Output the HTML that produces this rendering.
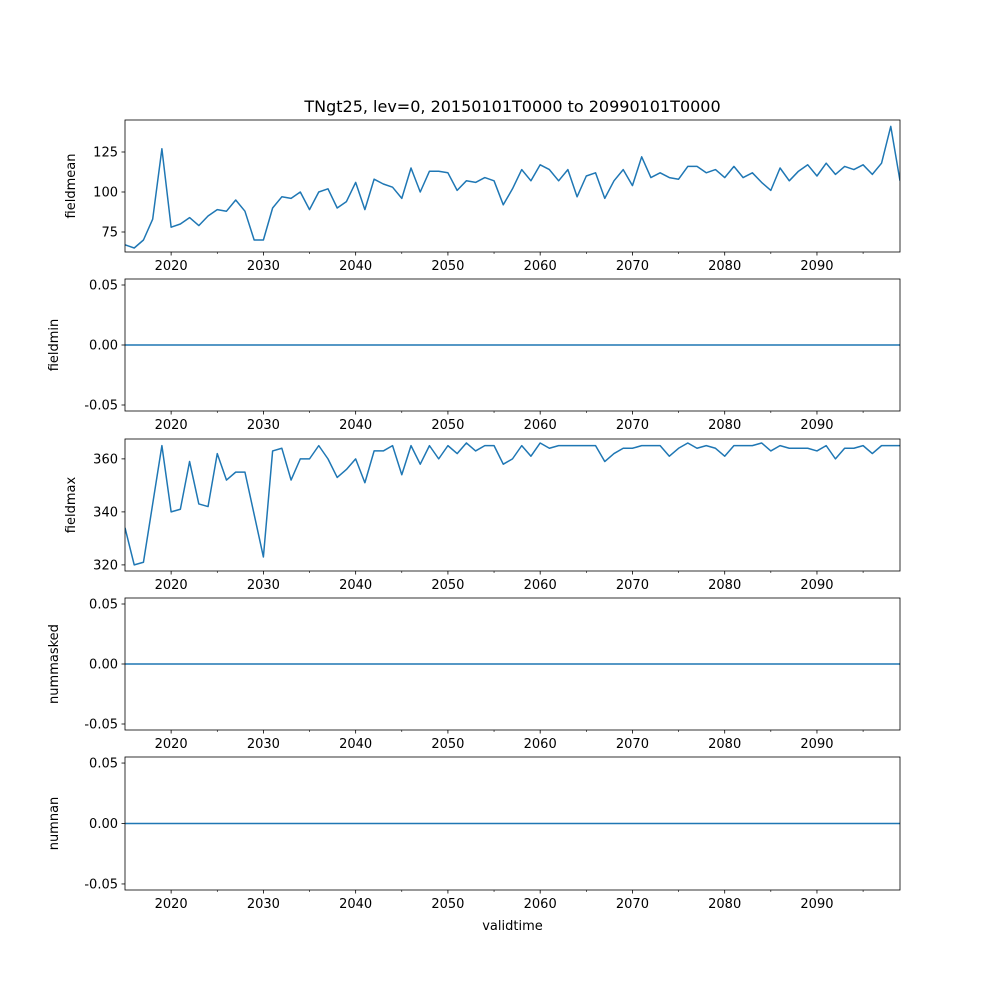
<!DOCTYPE html>
<html><head><meta charset="utf-8"><style>
body{margin:0;background:#fff}
svg text{font-family:"DejaVu Sans","Liberation Sans",sans-serif;fill:#000}
</style></head><body>
<svg id="chart" width="1000" height="1000" xmlns="http://www.w3.org/2000/svg"></svg>
<script>
const years = [];
for (let y = 2015; y <= 2099; y++) years.push(y);
const fieldmean = [67,65,70,83,127,78,80,84,79,85,89,88,95,88,70,70,90,97,96,100,89,100,102,90,94,106,89,108,105,103,96,115,100,113,113,112,101,107,106,109,107,92,102,114,107,117,114,107,114,97,110,112,96,107,114,104,122,109,112,109,108,116,116,112,114,109,116,109,112,106,101,115,107,113,117,110,118,111,116,114,117,111,118,141,107];
const fieldmax = [334,320,321,343,365,340,341,359,343,342,362,352,355,355,339,323,363,364,352,360,360,365,360,353,356,360,351,363,363,365,354,365,358,365,360,365,362,366,363,365,365,358,360,365,361,366,364,365,365,365,365,365,359,362,364,364,365,365,365,361,364,366,364,365,364,361,365,365,365,366,363,365,364,364,364,363,365,360,364,364,365,362,365,365,365];
const fieldmin = years.map(() => 0);
const nummasked = years.map(() => 0);
const numnan = years.map(() => 0);
const xTicks = [2020,2030,2040,2050,2060,2070,2080,2090];
const xMinor = [2025,2035,2045,2055,2065,2075,2085,2095];
const meanTicks = [75,100,125];
const maxTicks = [320,340,360];
const zeroTicks = [-0.05,0,0.05];

const NS = "http://www.w3.org/2000/svg";
const svg = document.getElementById('chart');
function el(tag, attrs, parent) {
  const e = document.createElementNS(NS, tag);
  for (const k in attrs) e.setAttribute(k, attrs[k]);
  (parent || svg).appendChild(e);
  return e;
}
const X0 = 125, X1 = 900, XMIN = 2015, XMAX = 2099;
const xs = v => X0 + (v - XMIN) / (XMAX - XMIN) * (X1 - X0);

const panels = [
  {name:'fieldmean', data:fieldmean, top:120, bot:252, ymin:62.5, ymax:145, ticks:meanTicks, fmt:v=>String(v), lx:75},
  {name:'fieldmin', data:fieldmin, top:279, bot:411, ymin:-0.055, ymax:0.055, ticks:zeroTicks, fmt:v=>v.toFixed(2), lx:58},
  {name:'fieldmax', data:fieldmax, top:439, bot:571, ymin:317.7, ymax:367.5, ticks:maxTicks, fmt:v=>String(v), lx:75},
  {name:'nummasked', data:nummasked, top:598, bot:730, ymin:-0.055, ymax:0.055, ticks:zeroTicks, fmt:v=>v.toFixed(2), lx:58},
  {name:'numnan', data:numnan, top:757, bot:890, ymin:-0.055, ymax:0.055, ticks:zeroTicks, fmt:v=>v.toFixed(2), lx:58}
];

panels.forEach(p => {
  const g = el('g', {});
  
  
  const ys = v => p.bot - (v - p.ymin) / (p.ymax - p.ymin) * (p.bot - p.top);
  // line
  const pts = p.data.map((v,i) => xs(years[i]).toFixed(2) + ',' + ys(v).toFixed(2)).join(' ');
  const clipId = 'clip-' + p.name;
  const cp = el('clipPath', {id: clipId}, g);
  el('rect', {x:X0, y:p.top, width:X1-X0, height:p.bot-p.top}, cp);
  const line = el('polyline', {points:pts, fill:'none', stroke:'#1f77b4', 'stroke-width':1.5, 'stroke-linejoin':'round', 'clip-path':'url(#'+clipId+')'}, g);
  
  
  // frame
  const fr = el('rect', {x:X0, y:p.top, width:X1-X0, height:p.bot-p.top, fill:'none', stroke:'#000', 'stroke-width':0.8}, g);
  
  
  // y ticks
  p.ticks.forEach(t => {
    const y = ys(t);
    el('line', {x1:X0-3.5, x2:X0, y1:y, y2:y, stroke:'#000', 'stroke-width':0.8}, g);
    const tx = el('text', {x:X0-7, y:y+4.5, 'text-anchor':'end', 'font-size':13}, g);
    tx.textContent = p.fmt(t);
    
    
  });
  // x ticks
  xTicks.forEach(t => {
    const x = xs(t);
    el('line', {x1:x, x2:x, y1:p.bot, y2:p.bot+3.5, stroke:'#000', 'stroke-width':0.8}, g);
    const tx = el('text', {x:x, y:p.bot+18, 'text-anchor':'middle', 'font-size':13}, g);
    tx.textContent = t;
    
    
  });
  xMinor.forEach(t => {
    const x = xs(t);
    el('line', {x1:x, x2:x, y1:p.bot, y2:p.bot+2, stroke:'#000', 'stroke-width':0.6}, g);
  });
  // y label
  const cy = (p.top + p.bot) / 2;
  const yl = el('text', {x:p.lx, y:cy, 'text-anchor':'middle', 'font-size':13, transform:'rotate(-90 '+p.lx+' '+cy+')'}, g);
  yl.textContent = p.name;
  
  
});

const title = el('text', {x:512.5, y:112, 'text-anchor':'middle', 'font-size':16});
title.textContent = 'TNgt25, lev=0, 20150101T0000 to 20990101T0000';


const xl = el('text', {x:512.5, y:930, 'text-anchor':'middle', 'font-size':13});
xl.textContent = 'validtime';


</script>
</body></html>
